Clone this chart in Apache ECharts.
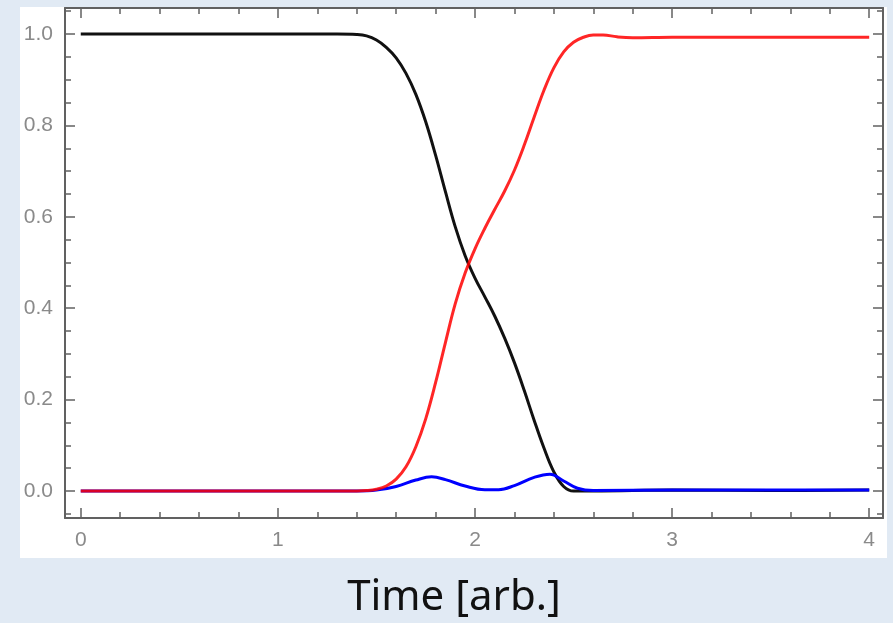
<!DOCTYPE html>
<html>
<head>
<meta charset="utf-8">
<script src="https://cdn.jsdelivr.net/npm/echarts@6/dist/echarts.min.js"></script>
<style>
  html, body { margin: 0; padding: 0; background: #e1eaf4; }
  #chart { width: 893px; height: 623px; }
</style>
</head>
<body>
<div id="chart"></div>
<script>
// time axis and populations
var blackT = [0, 1.0, 1.3, 1.4, 1.45, 1.5, 1.55, 1.6, 1.65, 1.7, 1.75, 1.8, 1.85, 1.9, 1.95, 2.0, 2.05, 2.1, 2.15, 2.2, 2.25, 2.3, 2.35, 2.4, 2.45, 2.5, 2.6, 3.0, 3.5, 4.0]
var blackP = [1.0, 1.0, 1.0, 0.999, 0.996, 0.987, 0.971, 0.948, 0.914, 0.868, 0.808, 0.735, 0.655, 0.578, 0.515, 0.466, 0.425, 0.383, 0.335, 0.281, 0.22, 0.155, 0.094, 0.042, 0.01, 0.0, 0.0, 0.002, 0.001, 0.002]

var redT = [0, 1.0, 1.4, 1.45, 1.5, 1.55, 1.6, 1.65, 1.7, 1.75, 1.8, 1.85, 1.9, 1.95, 2.0, 2.05, 2.1, 2.15, 2.2, 2.25, 2.3, 2.35, 2.4, 2.45, 2.5, 2.55, 2.6, 2.65, 2.72, 2.8, 3.0, 4.0]
var redP = [0, 0, 0, 0.001, 0.004, 0.011, 0.026, 0.053, 0.097, 0.158, 0.237, 0.325, 0.41, 0.477, 0.53, 0.575, 0.616, 0.656, 0.702, 0.757, 0.818, 0.877, 0.926, 0.961, 0.982, 0.993, 0.998, 0.998, 0.994, 0.992, 0.993, 0.993]

var blueT = [0, 1.0, 1.4, 1.5, 1.6, 1.7, 1.78, 1.85, 1.95, 2.05, 2.12, 2.2, 2.3, 2.38, 2.45, 2.52, 2.6, 3.0, 4.0]
var blueP = [0, 0, 0, 0.002, 0.01, 0.024, 0.031, 0.025, 0.011, 0.003, 0.003, 0.012, 0.03, 0.037, 0.022, 0.006, 0.001, 0.002, 0.002]

// tick marks
var xMajor = [0, 1, 2, 3, 4]
var yMajor = [0, 0.2, 0.4, 0.6, 0.8, 1.0]
var xMinor = []
var yMinor = []
for (var i = 1; i < 20; i++) { if (i % 5) xMinor.push(i / 5) }
for (var j = -1; j <= 21; j++) { if (j % 4) yMinor.push(j / 20) }

var frameColor = '#616161'
var labelColor = '#8a8a8a'

function pairs(t, p) {
  return t.map(function (v, k) { return [v, p[k]] })
}

function makeAxis(dir, pos, ticks, len, withLine, withLabels) {
  var isX = dir === 'x'
  return {
    type: 'value',
    position: pos,
    min: isX ? -0.08 : -0.059,
    max: isX ? 4.07 : 1.057,
    axisLine: { show: withLine, onZero: false, lineStyle: { color: frameColor, width: 2 } },
    axisTick: {
      show: true, inside: true, length: len, customValues: ticks,
      lineStyle: { color: frameColor, width: 1.5 }
    },
    axisLabel: {
      show: withLabels, customValues: ticks, margin: 12,
      color: labelColor, fontSize: 21, fontFamily: 'Liberation Sans',
      formatter: function (v) { return isX ? String(v) : v.toFixed(1) }
    },
    splitLine: { show: false }
  }
}

var chart = echarts.init(document.getElementById('chart'))
chart.setOption({
  animation: false,
  backgroundColor: '#e1eaf4',
  graphic: [
    { type: 'rect', z: -10, shape: { x: 20, y: 7, width: 867, height: 551 }, style: { fill: '#ffffff' } },
    {
      type: 'text', x: 454, y: 577,
      style: { text: 'Time [arb.]', fontSize: 42, fontFamily: 'Noto Sans', fill: '#111111', align: 'center' }
    }
  ],
  grid: { left: 65, right: 10, top: 8, bottom: 105 },
  xAxis: [
    makeAxis('x', 'bottom', xMajor, 10, true, true),
    makeAxis('x', 'bottom', xMinor, 6, false, false),
    makeAxis('x', 'top', xMajor, 10, true, false),
    makeAxis('x', 'top', xMinor, 6, false, false)
  ],
  yAxis: [
    makeAxis('y', 'left', yMajor, 10, true, true),
    makeAxis('y', 'left', yMinor, 6, false, false),
    makeAxis('y', 'right', yMajor, 10, true, false),
    makeAxis('y', 'right', yMinor, 6, false, false)
  ],
  series: [
    {
      type: 'line', data: pairs(blackT, blackP), smooth: 0.4, showSymbol: false,
      lineStyle: { color: '#111111', width: 3 }
    },
    {
      type: 'line', data: pairs(blueT, blueP), smooth: 0.4, showSymbol: false,
      lineStyle: { color: '#0000ff', width: 3 }
    },
    {
      type: 'line', data: pairs(redT, redP), smooth: 0.4, showSymbol: false,
      lineStyle: { color: '#ff0000', width: 3, opacity: 0.85 }
    }
  ]
})
</script>
</body>
</html>
